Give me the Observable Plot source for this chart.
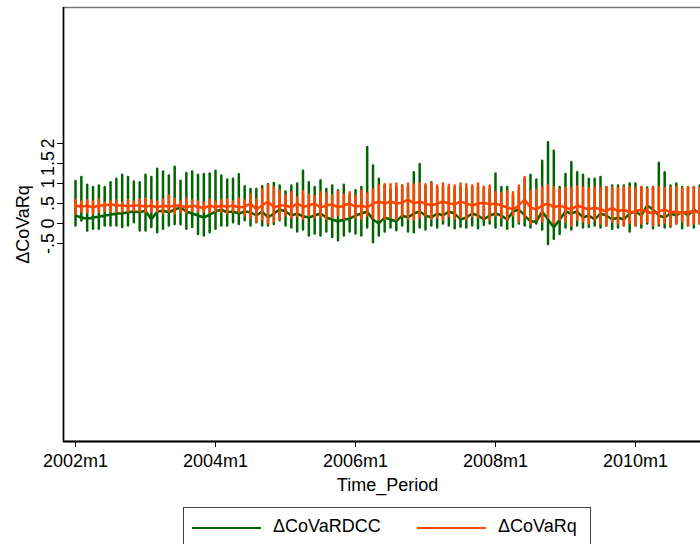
<!DOCTYPE html>
<html>
<head>
<meta charset="utf-8">
<script src="https://cdn.jsdelivr.net/npm/d3@7"></script>
<script src="https://cdn.jsdelivr.net/npm/@observablehq/plot@0.6"></script>
<style>
html, body { margin: 0; padding: 0; background: #fff; overflow: hidden; width: 700px; height: 544px; }
#wrap { position: relative; width: 700px; height: 544px; overflow: hidden; }
#chart { position: absolute; left: 0; top: 0; width: 760px; }
#chart svg { max-width: none !important; width: 760px !important; height: 500px !important; display: block; }
#legend { position: absolute; left: 183px; top: 507px; width: 406px; height: 60px; border: 1.5px solid #444; background: #fff; font-family: "Liberation Sans", Arial, sans-serif; font-size: 18px; }
.sw { position: absolute; top: 19px; width: 69px; height: 2px; }
.lt { position: absolute; top: 8px; }
</style>
</head>
<body>
<div id="wrap"><div id="chart"></div><div id="legend"></div></div>
<script>
// Monthly index 0 = 2002m1
const xTickValues = [0, 24, 48, 72, 96];
const xTickLabels = ["2002m1", "2004m1", "2006m1", "2008m1", "2010m1"];
const yTickValues = [-0.5, 0, 0.5, 1, 1.5, 2];
const yTickLabels = ["-.5", "0", ".5", "1", "1.5", "2"];
const seriesNames = ["ΔCoVaRDCC", "ΔCoVaRq"];
const seriesColors = ["#006400", "#ff4500"];

// ΔCoVaRDCC: monthly high, low and connecting level
const dccHigh = [1.06,1.16,0.97,0.91,0.95,0.91,1.03,1.12,1.22,1.16,1.05,1.03,1.22,1.16,1.37,1.30,1.20,1.42,
  1.07,1.26,1.30,1.22,1.24,1.25,1.32,1.20,1.10,1.12,1.23,0.93,0.86,0.86,0.93,0.98,1.01,0.95,
  0.80,0.95,1.00,1.32,1.03,0.91,1.08,0.86,0.95,0.83,0.97,0.72,0.83,0.91,1.91,1.45,1.12,0.95,
  0.85,0.90,0.95,0.92,1.28,1.49,0.95,1.03,0.90,0.92,0.91,0.90,0.91,0.88,0.92,0.90,0.87,0.85,
  1.25,0.91,0.91,0.70,0.83,1.12,1.22,1.10,1.57,2.03,1.82,0.91,1.24,1.53,1.28,1.22,1.12,1.12,
  1.16,0.91,0.95,0.95,0.95,1.00,1.00,0.91,0.90,0.91,1.52,1.28,0.95,1.00,0.91,0.91,0.91,0.95];
const dccLow = [-0.05,0.075,-0.175,-0.13,-0.13,-0.05,-0.05,-0.05,-0.09,-0.05,0.03,-0.175,-0.175,-0.09,-0.22,-0.13,-0.05,-0.01,
  -0.02,-0.13,-0.09,-0.26,-0.30,-0.22,-0.13,-0.05,-0.05,0.03,-0.01,0.08,-0.05,0.03,-0.05,-0.05,-0.01,0.08,
  -0.05,-0.10,-0.20,-0.15,-0.30,-0.25,-0.30,-0.20,-0.34,-0.42,-0.30,-0.20,-0.25,-0.30,-0.10,-0.47,-0.30,-0.20,
  -0.10,-0.17,-0.05,-0.20,-0.22,-0.10,-0.15,-0.05,-0.10,0.00,-0.05,-0.12,-0.08,-0.10,-0.05,-0.12,-0.03,0.00,
  -0.10,-0.05,-0.13,-0.08,0.00,-0.05,-0.10,0.00,-0.15,-0.51,-0.38,-0.26,-0.10,-0.15,-0.05,-0.10,-0.08,-0.05,
  -0.10,-0.05,-0.13,-0.10,-0.05,-0.20,-0.05,-0.10,0.00,-0.12,-0.05,-0.10,-0.08,0.00,-0.12,-0.05,-0.10,0.00];
const dccMid = [0.20,0.15,0.12,0.15,0.17,0.20,0.22,0.25,0.25,0.28,0.30,0.28,0.32,0.10,0.30,0.32,0.28,0.35,
  0.40,0.30,0.25,0.20,0.15,0.22,0.30,0.35,0.28,0.30,0.25,0.30,0.28,0.20,0.30,0.15,0.25,0.35,
  0.30,0.20,0.25,0.18,0.15,0.20,0.25,0.15,0.10,0.05,0.10,0.12,0.20,0.25,0.30,0.10,0.00,0.15,
  0.10,0.05,0.20,0.15,0.25,0.30,0.20,0.15,0.25,0.20,0.30,0.25,0.10,0.15,0.25,0.20,0.10,0.20,
  0.25,0.20,0.10,0.30,0.35,0.20,0.05,0.05,0.30,0.10,-0.10,0.10,0.30,0.25,0.30,0.15,0.20,0.10,
  0.25,0.20,0.10,0.15,0.10,0.25,0.30,0.20,0.45,0.35,0.20,0.15,0.25,0.20,0.30,0.20,0.35,0.25];

// ΔCoVaRq: monthly high, low and connecting level
const qHigh = [0.60,0.55,0.58,0.55,0.60,0.52,0.55,0.58,0.52,0.58,0.55,0.60,0.62,0.58,0.55,0.60,0.70,0.62,
  0.55,0.62,0.58,0.55,0.52,0.60,0.55,0.58,0.60,0.55,0.62,0.58,0.72,0.60,0.85,0.95,0.90,0.82,
  0.70,0.78,0.65,0.80,0.72,0.68,0.78,0.75,0.70,0.80,0.72,0.78,0.70,0.82,0.75,0.85,0.95,0.98,
  0.98,1.00,0.95,1.00,0.97,1.00,0.98,1.00,0.95,1.00,0.97,0.95,1.00,0.98,0.95,1.00,0.92,0.95,
  0.78,0.75,0.80,0.78,0.95,1.16,0.80,0.85,0.90,0.95,0.90,0.85,0.90,0.88,0.92,0.90,0.88,0.90,
  0.88,0.91,0.90,0.88,0.91,0.90,0.88,0.91,0.86,0.90,0.91,0.88,0.90,0.91,0.88,0.90,0.91,0.88];
const qLow = [0.25,0.30,0.28,0.25,0.30,0.32,0.30,0.30,0.30,0.30,0.32,0.30,0.28,0.30,0.30,0.25,0.30,0.25,
  0.30,0.28,0.32,0.30,0.30,0.28,0.30,0.30,0.25,0.30,0.28,0.20,0.15,0.05,0.10,0.00,0.05,0.10,
  0.20,0.15,0.18,0.12,0.20,0.15,0.18,0.12,0.15,0.20,0.12,0.18,0.15,0.12,0.20,0.15,0.10,0.12,
  0.15,0.10,0.18,0.12,0.10,0.15,0.20,0.12,0.15,0.10,0.18,0.12,0.15,0.10,0.18,0.15,0.12,0.10,
  0.20,0.15,0.10,0.20,0.05,0.15,0.00,0.10,0.05,0.15,0.00,0.10,0.05,-0.05,0.10,0.05,0.00,0.10,
  0.00,-0.05,0.05,0.00,-0.05,0.02,-0.05,0.00,0.05,-0.05,0.00,0.02,-0.05,0.00,0.05,-0.05,0.00,0.02];
const qMid = [0.45,0.42,0.45,0.40,0.45,0.45,0.48,0.45,0.45,0.43,0.45,0.45,0.42,0.45,0.40,0.45,0.42,0.45,
  0.45,0.40,0.45,0.42,0.38,0.45,0.40,0.45,0.42,0.45,0.40,0.42,0.50,0.35,0.45,0.55,0.40,0.45,
  0.45,0.40,0.50,0.42,0.45,0.50,0.40,0.45,0.48,0.40,0.45,0.50,0.42,0.45,0.40,0.50,0.55,0.50,
  0.55,0.50,0.52,0.60,0.50,0.55,0.50,0.45,0.50,0.55,0.50,0.48,0.55,0.50,0.45,0.50,0.52,0.48,
  0.50,0.45,0.40,0.35,0.45,0.60,0.40,0.35,0.45,0.50,0.40,0.45,0.40,0.35,0.45,0.40,0.35,0.40,
  0.35,0.30,0.40,0.30,0.35,0.28,0.30,0.35,0.30,0.25,0.30,0.35,0.28,0.30,0.25,0.30,0.28,0.30];

// Build the long table (several observations per month, as in the source)
function buildRows(name, hi, lo, mid) {
  const rows = [];
  hi.forEach((h, i) => {
    rows.push({series: name, t: i, v: mid[i]});
    rows.push({series: name, t: i, v: h});
    rows.push({series: name, t: i, v: lo[i]});
    rows.push({series: name, t: i, v: mid[i]});
  });
  return rows;
}
const rowsDCC = buildRows(seriesNames[0], dccHigh, dccLow, dccMid);
const rowsQ = buildRows(seriesNames[1], qHigh, qLow, qMid);

const font = "'Liberation Sans', Arial, sans-serif";
const xDomain = [-2.06, 109.03];
const yDomain = [-5.45, 5.4];

const chart = Plot.plot({
  width: 760,
  height: 500,
  marginLeft: 63,
  marginRight: 49,
  marginTop: 7,
  marginBottom: 59,
  style: {fontFamily: font, fontSize: "18px", color: "#000", background: "#fff", maxWidth: "none"},
  x: {domain: xDomain},
  y: {domain: yDomain},
  marks: [
    Plot.frame({stroke: "#777", strokeWidth: 1.5}),
    Plot.line(rowsDCC, {x: "t", y: "v", stroke: seriesColors[0], strokeWidth: 2.5}),
    Plot.line(rowsQ, {x: "t", y: "v", stroke: seriesColors[1], strokeWidth: 2.5}),
    Plot.ruleX([xDomain[0]], {stroke: "#000", strokeWidth: 1.5}),
    Plot.ruleY([yDomain[0]], {stroke: "#000", strokeWidth: 2}),
    Plot.axisX({ticks: xTickValues, tickSize: 6, tickPadding: 7, tickFormat: (d) => xTickLabels[xTickValues.indexOf(d)], label: null, fontSize: 18}),
    Plot.axisY({ticks: yTickValues, tickSize: 6, tickFormat: () => "", label: null}),
    Plot.text(yTickValues, {y: (d) => d, text: (d) => yTickLabels[yTickValues.indexOf(d)], frameAnchor: "left", dx: -15, rotate: -90, textAnchor: "middle", lineAnchor: "middle", fontSize: 18}),
    Plot.text(["ΔCoVaRq"], {frameAnchor: "left", dx: -40, rotate: -90, textAnchor: "middle", lineAnchor: "middle", fontSize: 18}),
    Plot.text(["Time_Period"], {frameAnchor: "bottom", dy: 44, lineAnchor: "middle", fontSize: 18})
  ]
});
document.getElementById("chart").appendChild(chart);

const legend = document.getElementById("legend");
const swLeft = [8, 233];
const txLeft = [89, 314];
seriesNames.forEach((n, i) => {
  const sw = document.createElement("div");
  sw.className = "sw";
  sw.style.left = swLeft[i] + "px";
  sw.style.background = seriesColors[i];
  legend.appendChild(sw);
  const tx = document.createElement("div");
  tx.className = "lt";
  tx.style.left = txLeft[i] + "px";
  tx.textContent = n;
  legend.appendChild(tx);
});
</script>
</body>
</html>
